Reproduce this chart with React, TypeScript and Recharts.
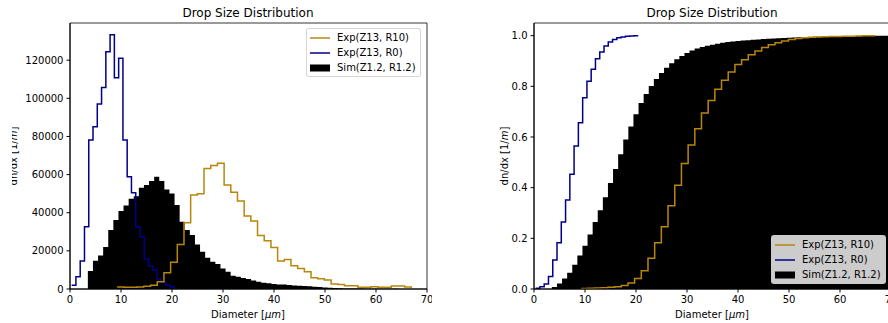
import React from "react";
import {
  Area,
  ComposedChart,
  Legend,
  Line,
  ReferenceArea,
  XAxis,
  YAxis,
} from "recharts";

// axis ticks
const diameterTicks = [0, 10, 20, 30, 40, 50, 60, 70];
const countTicks = [0, 20000, 40000, 60000, 80000, 100000, 120000];
const fractionTicks = [0, 0.2, 0.4, 0.6, 0.8, 1.0];

// Exp(Z13, R0) - bin edges, counts, cumulative fraction
const blueEdges = [
  0.32, 1.16, 2.0, 2.84, 3.68, 4.51, 5.35, 6.19, 7.03, 7.86, 8.7, 9.54, 10.38,
  11.21, 12.05, 12.89, 13.73, 14.56, 15.4, 16.24, 17.08, 17.92, 18.76, 19.6,
  20.44,
];
const blueCounts = [
  2000, 6400, 14700, 32700, 78100, 85100, 97000, 105700, 124400, 133300,
  110800, 121000, 78100, 58900, 50500, 32700, 27400, 15900, 12000, 10000, 5000,
  3800, 2000, 1200,
];
const blueCum = [
  0.003, 0.009, 0.02, 0.049, 0.114, 0.183, 0.264, 0.351, 0.453, 0.564, 0.656,
  0.755, 0.82, 0.867, 0.909, 0.936, 0.959, 0.975, 0.985, 0.992, 0.995, 0.998,
  0.999, 1.0,
];

// Exp(Z13, R10)
const goldEdges = [
  9.24, 10.55, 11.86, 13.17, 14.48, 15.8, 17.11, 18.42, 19.73, 21.04, 22.35,
  23.66, 24.97, 26.28, 27.6, 28.91, 30.22, 31.53, 32.84, 34.15, 35.46, 36.77,
  38.08, 39.4, 40.71, 42.02, 43.33, 44.64, 45.95, 47.26, 48.57, 49.88, 51.2,
  52.51, 53.82, 55.13, 56.44, 57.75, 59.06, 60.37, 61.68, 63.0, 64.31, 65.62,
  66.93,
];
const goldCounts = [
  1000, 900, 900, 1000, 1500, 2000, 3800, 8500, 14000, 23400, 34800, 49300,
  50000, 63200, 64800, 65900, 54500, 50800, 46100, 38300, 35600, 28100, 25300,
  21700, 14700, 15500, 12200, 10800, 9100, 5900, 5400, 4700, 2600, 2400, 1700,
  1700, 900, 900, 1200, 900, 900, 1600, 1600, 1000,
];
const goldCum = [
  0.002, 0.003, 0.004, 0.005, 0.007, 0.009, 0.014, 0.024, 0.041, 0.072, 0.121,
  0.183, 0.246, 0.329, 0.41, 0.495, 0.568, 0.633, 0.695, 0.744, 0.788, 0.824,
  0.857, 0.886, 0.905, 0.925, 0.939, 0.953, 0.964, 0.972, 0.979, 0.985, 0.989,
  0.992, 0.994, 0.995, 0.996, 0.997, 0.997, 0.998, 0.998, 0.999, 1.0, 1.0,
];

// Sim(Z1.2, R1.2)
const simEdges = [
  3.5, 4.5, 5.5, 6.5, 7.5, 8.5, 9.5, 10.5, 11.5, 12.5, 13.5, 14.5, 15.5, 16.5,
  17.5, 18.5, 19.5, 20.5, 21.5, 22.5, 23.5, 24.5, 25.5, 26.5, 27.5, 28.5, 29.5,
  30.5, 31.5, 32.5, 33.5, 34.5, 35.5, 36.5, 37.5, 38.5, 39.5, 40.5, 41.5, 42.5,
  43.5, 44.5, 45.5, 46.5, 47.5, 48.5, 49.5, 50.5, 51.5, 52.5, 53.5, 54.5, 55.5,
  56.5, 57.5, 58.5, 59.5, 60.5, 61.5, 62.5, 63.5, 64.5, 65.5, 66.5, 67.5, 68.5,
  69.5,
];
const simCounts = [
  9400, 14800, 17600, 22000, 30900, 36200, 40900, 43800, 47300, 48700, 53100,
  54500, 56700, 58900, 56700, 52200, 50100, 44000, 35300, 30900, 28300, 23400,
  19500, 16400, 14300, 13100, 10800, 9100, 7000, 6400, 5800, 5200, 4400, 3800,
  3300, 3000, 2600, 2400, 2300, 2100, 1900, 1700, 1600, 1400, 1200, 1000, 800,
  600, 500, 400, 300, 300, 200, 200, 150, 150, 100, 100, 100, 80, 80, 60, 60,
  50, 50, 40,
];
const simCum = [
  0.008, 0.022, 0.041, 0.064, 0.096, 0.132, 0.171, 0.215, 0.264, 0.311, 0.362,
  0.418, 0.474, 0.532, 0.59, 0.641, 0.69, 0.734, 0.77, 0.801, 0.829, 0.853,
  0.873, 0.891, 0.907, 0.92, 0.932, 0.941, 0.949, 0.955, 0.96, 0.964, 0.968,
  0.972, 0.975, 0.977, 0.979, 0.981, 0.982, 0.984, 0.985, 0.987, 0.988, 0.989,
  0.99, 0.991, 0.992, 0.993, 0.994, 0.995, 0.995, 0.996, 0.996, 0.997, 0.997,
  0.998, 0.998, 0.998, 0.999, 0.999, 0.999, 0.999, 1.0, 1.0, 1.0, 1.0,
];

const GOLD = "#b8860b";
const BLUE = "#00008b";
const FONT = "'DejaVu Sans', sans-serif";

const legendItems = [
  { label: "Exp(Z13, R10)", color: GOLD, kind: "line" },
  { label: "Exp(Z13, R0)", color: BLUE, kind: "line" },
  { label: "Sim(Z1.2, R1.2)", color: "#000", kind: "patch" },
];

type Pt = { x: number; v: number };
type Row = { x: number; [key: string]: number };

function stepPoints(edges: number[], values: number[], dropToZero: boolean): Pt[] {
  const pts = values.map((v, i) => ({ x: edges[i], v }));
  pts.push({ x: edges[edges.length - 1], v: dropToZero ? 0 : values[values.length - 1] });
  return pts;
}

function mergeSeries(series: Record<string, Pt[]>): Row[] {
  const rows = new Map<number, Row>();
  Object.entries(series).forEach(([key, pts]) => {
    pts.forEach((p) => {
      const row = rows.get(p.x) ?? { x: p.x };
      row[key] = p.v;
      rows.set(p.x, row);
    });
  });
  return Array.from(rows.values()).sort((a, b) => a.x - b.x);
}

const countData = mergeSeries({
  sim: stepPoints(simEdges, simCounts, true),
  blue: stepPoints(blueEdges, blueCounts, true),
  gold: stepPoints(goldEdges, goldCounts, true),
});

const cumData = mergeSeries({
  sim: stepPoints(simEdges, simCum, false),
  blue: stepPoints(blueEdges, blueCum, false),
  gold: stepPoints(goldEdges, goldCum, false),
});

function LegendBox() {
  return (
    <div
      style={{
        width: 113,
        height: 46,
        border: "1px solid rgba(204,204,204,0.8)",
        background: "rgba(255,255,255,0.8)",
        borderRadius: 3,
        fontFamily: FONT,
        fontSize: 10,
        color: "#000",
        paddingTop: 1,
      }}
    >
      {legendItems.map((item) => (
        <div
          key={item.label}
          style={{ height: 15, display: "flex", alignItems: "center", whiteSpace: "nowrap" }}
        >
          <svg width={20} height={10} style={{ marginLeft: 3, marginRight: 7 }}>
            {item.kind === "line" ? (
              <line x1={0} y1={5} x2={20} y2={5} stroke={item.color} strokeWidth={1.5} />
            ) : (
              <rect x={0} y={1.5} width={20} height={7} fill={item.color} />
            )}
          </svg>
          <span>{item.label}</span>
        </div>
      ))}
    </div>
  );
}

type PanelProps = {
  data: Row[];
  yMax: number;
  yTicks: number[];
  formatY: (v: number) => string;
  legendTop: number;
  legendLeft: number;
};

function Panel({ data, yMax, yTicks, formatY, legendTop, legendLeft }: PanelProps) {
  const tickStyle = { fontSize: 10, fill: "#000", fontFamily: FONT };
  return (
    <ComposedChart
      width={432}
      height={323}
      data={data}
      margin={{ top: 23, right: 5, bottom: 0, left: 0 }}
    >
      <XAxis
        dataKey="x"
        type="number"
        domain={[0, 70]}
        ticks={diameterTicks}
        interval={0}
        height={34}
        tick={tickStyle}
        tickSize={3.5}
        tickMargin={3}
        stroke="#000"
        allowDataOverflow
      />
      <YAxis
        type="number"
        domain={[0, yMax]}
        ticks={yTicks}
        interval={0}
        width={70}
        tick={tickStyle}
        tickSize={3.5}
        tickMargin={3}
        tickFormatter={formatY}
        stroke="#000"
        allowDataOverflow
      />
      <Area
        dataKey="sim"
        type="stepAfter"
        fill="#000"
        fillOpacity={1}
        stroke="none"
        connectNulls
        dot={false}
        activeDot={false}
        isAnimationActive={false}
      />
      <Line
        dataKey="blue"
        type="stepAfter"
        stroke={BLUE}
        strokeWidth={1.5}
        connectNulls
        dot={false}
        activeDot={false}
        isAnimationActive={false}
      />
      <Line
        dataKey="gold"
        type="stepAfter"
        stroke={GOLD}
        strokeWidth={1.5}
        connectNulls
        dot={false}
        activeDot={false}
        isAnimationActive={false}
      />
      <ReferenceArea
        x1={0}
        x2={70}
        y1={0}
        y2={yMax}
        fill="none"
        stroke="#000"
        strokeWidth={0.8}
      />
      <Legend
        layout="vertical"
        align="center"
        verticalAlign="middle"
        content={() => <LegendBox />}
        wrapperStyle={{ left: legendLeft, top: legendTop, width: 115, height: 48 }}
      />
    </ComposedChart>
  );
}

const titleStyle: React.CSSProperties = {
  position: "absolute",
  width: 300,
  textAlign: "center",
  fontSize: 12,
  lineHeight: "12px",
  whiteSpace: "nowrap",
};

const xLabelStyle: React.CSSProperties = {
  position: "absolute",
  width: 200,
  top: 309.5,
  textAlign: "center",
  fontSize: 10,
  lineHeight: "10px",
  whiteSpace: "nowrap",
};

function yLabelStyle(cx: number, cy: number): React.CSSProperties {
  return {
    position: "absolute",
    left: cx - 50,
    top: cy - 6,
    width: 100,
    height: 12,
    textAlign: "center",
    fontSize: 10,
    lineHeight: "12px",
    whiteSpace: "nowrap",
    transform: "rotate(-90deg)",
  };
}

export default function App() {
  return (
    <div
      style={{
        position: "fixed",
        left: 0,
        top: 0,
        width: 888,
        height: 323,
        overflow: "hidden",
        background: "#fff",
        fontFamily: FONT,
        color: "#000",
      }}
    >
      {/* left panel, cropped on the left edge like the source image */}
      <div style={{ position: "absolute", left: 12, top: 0, width: 430, height: 323, overflow: "hidden" }}>
        <div style={{ position: "absolute", left: -12, top: 0 }}>
          <Panel
            data={countData}
            yMax={139500}
            yTicks={countTicks}
            formatY={(v) => String(v)}
            legendLeft={306}
            legendTop={28}
          />
        </div>
        <div style={yLabelStyle(1.5, 156)}>
          dn/dx [1/<i>m</i>]
        </div>
      </div>

      <div style={{ position: "absolute", left: 464, top: 0 }}>
        <Panel
          data={cumData}
          yMax={1.05}
          yTicks={fractionTicks}
          formatY={(v) => v.toFixed(1)}
          legendLeft={307}
          legendTop={235}
        />
      </div>
      <div style={yLabelStyle(505, 156)}>
        dn/dx [1/<i>m</i>]
      </div>

      <div style={{ ...titleStyle, left: 98, top: 7 }}>Drop Size Distribution</div>
      <div style={{ ...titleStyle, left: 562, top: 7 }}>Drop Size Distribution</div>
      <div style={{ ...xLabelStyle, left: 148 }}>
        Diameter [<i>μm</i>]
      </div>
      <div style={{ ...xLabelStyle, left: 612 }}>
        Diameter [<i>μm</i>]
      </div>
    </div>
  );
}
